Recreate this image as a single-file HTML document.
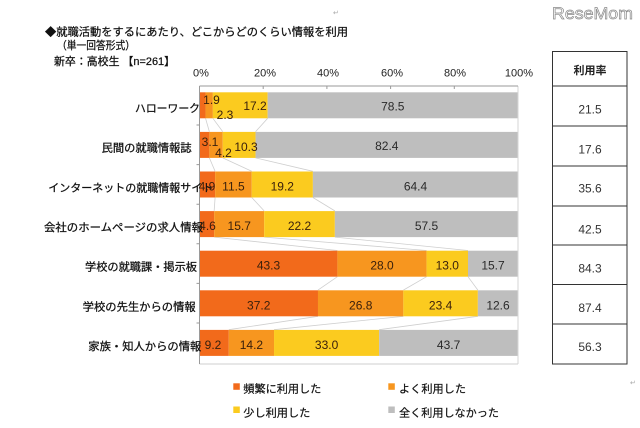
<!DOCTYPE html>
<html><head><meta charset="utf-8"><style>
html,body{margin:0;padding:0;background:#fff;}
svg{display:block;}
text{font-family:"Liberation Sans","Noto Sans CJK JP",sans-serif;}
</style></head><body>
<svg width="640" height="428" viewBox="0 0 640 428" xmlns="http://www.w3.org/2000/svg">
<rect width="640" height="428" fill="#fff"/>
<!-- watermark -->
<text x="552" y="19" font-size="17" fill="#fff" stroke="#8a8a8a" stroke-width="0.7" textLength="81" lengthAdjust="spacingAndGlyphs">ReseMom</text>
<text x="333" y="15" font-size="7" fill="#aaa">↵</text>
<text x="630" y="385" font-size="7" fill="#aaa">↵</text>
<!-- title -->
<g fill="#111" stroke="#111" stroke-width="0.25">
<text x="45" y="35.5" font-size="11" textLength="303" lengthAdjust="spacingAndGlyphs">◆就職活動をするにあたり、どこからどのくらい情報を利用</text>
<text x="57" y="49" font-size="11" textLength="78" lengthAdjust="spacingAndGlyphs">（単一回答形式）</text>
<text x="54" y="65" font-size="11" textLength="121" lengthAdjust="spacingAndGlyphs">新卒：高校生 【n=261】</text>
</g>
<!-- tick labels -->
<g font-size="11" fill="#222" text-anchor="middle">
<text x="201" y="76.7">0%</text>
<text x="265" y="76.7">20%</text>
<text x="328" y="76.7">40%</text>
<text x="392" y="76.7">60%</text>
<text x="455" y="76.7">80%</text>
<text x="519" y="76.7">100%</text>
</g>
<!-- series lines -->
<g stroke="#cfcfcf" stroke-width="0.8" fill="none">
<path d="M205.55 118.3L209.37 131.7M212.88 118.3L222.75 131.7M267.66 118.3L255.56 131.7"/>
<path d="M209.37 157.9L215.11 171.3M222.75 157.9L251.73 171.3M255.56 157.9L312.89 171.3"/>
<path d="M215.11 197.5L214.15 210.9M251.73 197.5L264.16 210.9M312.89 197.5L334.86 210.9"/>
<path d="M214.15 237.1L337.41 250.5M264.16 237.1L426.59 250.5M334.86 237.1L468 250.5"/>
<path d="M337.41 276.7L317.98 290.1M426.59 276.7L403.34 290.1M468 276.7L477.87 290.1"/>
<path d="M317.98 316.3L228.8 329.7M403.34 316.3L274.03 329.7M477.87 316.3L379.13 329.7"/>
</g>
<!-- bars -->
<g>
<rect x="199.5" y="92.3" width="6.05" height="26" fill="#F26A1B"/>
<rect x="205.55" y="92.3" width="7.33" height="26" fill="#F7961F"/>
<rect x="212.88" y="92.3" width="54.78" height="26" fill="#FBCB1F"/>
<rect x="267.66" y="92.3" width="250.34" height="26" fill="#BEBEBE"/>
<rect x="199.5" y="131.9" width="9.87" height="26" fill="#F26A1B"/>
<rect x="209.37" y="131.9" width="13.38" height="26" fill="#F7961F"/>
<rect x="222.75" y="131.9" width="32.81" height="26" fill="#FBCB1F"/>
<rect x="255.56" y="131.9" width="262.44" height="26" fill="#BEBEBE"/>
<rect x="199.5" y="171.5" width="15.61" height="26" fill="#F26A1B"/>
<rect x="215.11" y="171.5" width="36.62" height="26" fill="#F7961F"/>
<rect x="251.73" y="171.5" width="61.16" height="26" fill="#FBCB1F"/>
<rect x="312.89" y="171.5" width="205.11" height="26" fill="#BEBEBE"/>
<rect x="199.5" y="211.1" width="14.65" height="26" fill="#F26A1B"/>
<rect x="214.15" y="211.1" width="50.01" height="26" fill="#F7961F"/>
<rect x="264.16" y="211.1" width="70.7" height="26" fill="#FBCB1F"/>
<rect x="334.86" y="211.1" width="183.14" height="26" fill="#BEBEBE"/>
<rect x="199.5" y="250.7" width="137.91" height="26" fill="#F26A1B"/>
<rect x="337.41" y="250.7" width="89.18" height="26" fill="#F7961F"/>
<rect x="426.59" y="250.7" width="41.41" height="26" fill="#FBCB1F"/>
<rect x="468" y="250.7" width="50" height="26" fill="#BEBEBE"/>
<rect x="199.5" y="290.3" width="118.48" height="26" fill="#F26A1B"/>
<rect x="317.98" y="290.3" width="85.36" height="26" fill="#F7961F"/>
<rect x="403.34" y="290.3" width="74.53" height="26" fill="#FBCB1F"/>
<rect x="477.87" y="290.3" width="40.13" height="26" fill="#BEBEBE"/>
<rect x="199.5" y="329.9" width="29.3" height="26" fill="#F26A1B"/>
<rect x="228.8" y="329.9" width="45.23" height="26" fill="#F7961F"/>
<rect x="274.03" y="329.9" width="105.1" height="26" fill="#FBCB1F"/>
<rect x="379.13" y="329.9" width="138.87" height="26" fill="#BEBEBE"/>
</g>
<!-- plot border -->
<g fill="none" stroke-width="1">
<line x1="518" y1="86" x2="518" y2="364" stroke="#d6d6d6"/>
<line x1="199.5" y1="364" x2="518" y2="364" stroke="#cfcfcf"/>
<line x1="199.5" y1="86" x2="518" y2="86" stroke="#9a9a9a"/>
<line x1="199.5" y1="86" x2="199.5" y2="364" stroke="#9a9a9a"/>
<path d="M263.2 86v3M326.9 86v3M390.6 86v3M454.3 86v3" stroke="#9a9a9a"/>
<path d="M196.5 125h3M196.5 164.6h3M196.5 204.2h3M196.5 243.8h3M196.5 283.4h3M196.5 323h3" stroke="#9a9a9a"/>
</g>
<!-- category labels -->
<g font-size="11" fill="#111" stroke="#111" stroke-width="0.25">
<text x="135" y="112" textLength="65" lengthAdjust="spacingAndGlyphs">ハローワーク</text>
<text x="101.7" y="151.5" textLength="90" lengthAdjust="spacingAndGlyphs">民間の就職情報誌</text>
<text x="48.3" y="191.5" textLength="165" lengthAdjust="spacingAndGlyphs">インターネットの就職情報サイト</text>
<text x="44" y="231" textLength="159" lengthAdjust="spacingAndGlyphs">会社のホームページの求人情報</text>
<text x="85" y="270.7" textLength="112" lengthAdjust="spacingAndGlyphs">学校の就職課・掲示板</text>
<text x="82.7" y="310.3" textLength="113" lengthAdjust="spacingAndGlyphs">学校の先生からの情報</text>
<text x="88.3" y="350" textLength="113" lengthAdjust="spacingAndGlyphs">家族・知人からの情報</text>
</g>
<!-- data labels -->
<g font-size="12" fill="#3a200c" text-anchor="middle">
<text x="211.5" y="104">1.9</text>
<text x="225" y="119">2.3</text>
<text x="255" y="110">17.2</text>
<text x="210" y="146">3.1</text>
<text x="223.5" y="157">4.2</text>
<text x="246" y="151">10.3</text>
<text x="207" y="190.5">4.9</text>
<text x="233.4" y="190.5">11.5</text>
<text x="282.3" y="190.5">19.2</text>
<text x="207.5" y="230.1">4.6</text>
<text x="239.2" y="230.1">15.7</text>
<text x="299.5" y="230.1">22.2</text>
<text x="268.5" y="269.7">43.3</text>
<text x="382" y="269.7">28.0</text>
<text x="447.3" y="269.7">13.0</text>
<text x="258.7" y="309.3">37.2</text>
<text x="360.7" y="309.3">26.8</text>
<text x="440.6" y="309.3">23.4</text>
<text x="213" y="348.9">9.2</text>
<text x="251.4" y="348.9">14.2</text>
<text x="326.6" y="348.9">33.0</text>
</g>
<g font-size="12" fill="#2a2a2a" text-anchor="middle">
<text x="392.8" y="110.3">78.5</text>
<text x="386.8" y="149.9">82.4</text>
<text x="415.5" y="190.5">64.4</text>
<text x="426.5" y="230.1">57.5</text>
<text x="493" y="269.7">15.7</text>
<text x="498" y="309.3">12.6</text>
<text x="448.6" y="348.9">43.7</text>
</g>
<!-- table -->
<g fill="none" stroke="#333" stroke-width="1">
<rect x="552.5" y="51.5" width="74.5" height="312.5"/>
<path d="M552.5 86H627M552.5 126H627M552.5 166H627M552.5 206H627M552.5 245H627M552.5 284.5H627M552.5 324H627"/>
</g>
<text x="590" y="74" font-size="11" font-weight="bold" fill="#222" text-anchor="middle">利用率</text>
<g font-size="12" fill="#333" text-anchor="middle">
<text x="590" y="113.5">21.5</text>
<text x="590" y="153.5">17.6</text>
<text x="590" y="192.5">35.6</text>
<text x="590" y="233.5">42.5</text>
<text x="590" y="272.5">84.3</text>
<text x="590" y="312">87.4</text>
<text x="590" y="351">56.3</text>
</g>
<!-- legend -->
<rect x="233.3" y="383.3" width="6.5" height="6.5" fill="#F26A1B"/>
<rect x="388.3" y="383.3" width="6.5" height="6.5" fill="#F7961F"/>
<rect x="233.3" y="406.5" width="6.5" height="6.5" fill="#FBCB1F"/>
<rect x="388.3" y="406.5" width="6.5" height="6.5" fill="#BEBEBE"/>
<g font-size="11" fill="#111" stroke="#111" stroke-width="0.2">
<text x="243.3" y="392.3" textLength="78" lengthAdjust="spacingAndGlyphs">頻繁に利用した</text>
<text x="399" y="392.3" textLength="67" lengthAdjust="spacingAndGlyphs">よく利用した</text>
<text x="243.3" y="416.3" textLength="67" lengthAdjust="spacingAndGlyphs">少し利用した</text>
<text x="399" y="416.3" textLength="100" lengthAdjust="spacingAndGlyphs">全く利用しなかった</text>
</g>
</svg>
</body></html>
